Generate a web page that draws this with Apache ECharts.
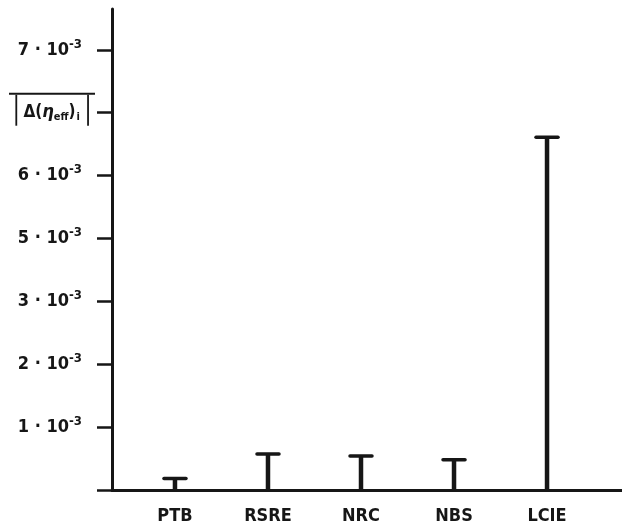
<!DOCTYPE html>
<html>
<head>
<meta charset="utf-8">
<script src="https://cdn.jsdelivr.net/npm/echarts@6/dist/echarts.min.js"></script>
<style>
html,body{margin:0;padding:0;background:#fff;}
#c{width:622px;height:528px;}
</style>
</head>
<body>
<div id="c"></div>
<script>
// Categories (labs) and values, in axis units of 10^-3
const categories = ['PTB', 'RSRE', 'NRC', 'NBS', 'LCIE'];
const values = [0.21, 0.60, 0.57, 0.51, 5.64];
// Y tick labels as printed in the figure (position -> text); position 6 carries the axis name
const yTickValues = [1, 2, 3, 4, 5, 6, 7];
const yTickMantissas = { 1: '1', 2: '2', 3: '3', 4: '5', 5: '6', 7: '7' };

const FONT = '"DejaVu Sans Condensed", "DejaVu Sans", sans-serif';
const INK = '#161616';

const chart = echarts.init(document.getElementById('c'), null, { renderer: 'canvas' });

const data = categories.map((c, i) => [i, values[i]]);

chart.setOption({
  animation: false,
  backgroundColor: '#fff',
  grid: { left: 112, right: 0, top: 9, bottom: 38, containLabel: false },
  xAxis: {
    type: 'value',
    min: -0.677,
    max: 4.806,
    splitLine: { show: false },
    axisLine: { show: true, onZero: false, lineStyle: { color: INK, width: 3 } },
    axisTick: { show: false },
    axisLabel: {
      customValues: categories.map((c, i) => i),
      formatter: v => categories[Math.round(v)] || '',
      margin: 17,
      color: INK,
      fontFamily: FONT,
      fontWeight: 'bold',
      fontSize: 18
    }
  },
  yAxis: {
    type: 'value',
    min: 0,
    max: 7.65,
    splitLine: { show: false },
    axisLine: { show: true, onZero: false, lineStyle: { color: INK, width: 3 } },
    axisTick: {
      show: true,
      customValues: [0].concat(yTickValues),
      length: 15,
      lineStyle: { color: INK, width: 2.5 }
    },
    axisLabel: {
      customValues: yTickValues,
      margin: 17,
      color: INK,
      formatter: v => {
        if (v === 6) {
          return '{ol|}\n{bar|│}{t|Δ(}{eta|η}{sub|eff}{t|)}{subi|i}{bar|│}\n{sp|}';
        }
        const m = yTickMantissas[v];
        return m ? '{n|' + m + ' · 10}{sup|-3}' : '';
      },
      rich: {
        n: { fontFamily: FONT, fontWeight: 'bold', fontSize: 18, color: INK, lineHeight: 22 },
        sup: { fontFamily: FONT, fontWeight: 'bold', fontSize: 13, color: INK, padding: [0, 13, 11, 0], lineHeight: 22 },
        ol: { width: 86, height: 2, backgroundColor: INK, lineHeight: 10 },
        bar: { fontFamily: FONT, fontSize: 26, color: INK, lineHeight: 28 },
        t: { fontFamily: FONT, fontWeight: 'bold', fontSize: 17, color: INK, lineHeight: 28 },
        eta: { fontFamily: FONT, fontWeight: 'bold', fontStyle: 'italic', fontSize: 18, color: INK, lineHeight: 28 },
        sub: { fontFamily: FONT, fontWeight: 'bold', fontSize: 11, color: INK, padding: [8, 0, 0, 0], lineHeight: 28 },
        subi: { fontFamily: FONT, fontWeight: 'bold', fontSize: 11, color: INK, padding: [8, 1, 0, 1], lineHeight: 28 },
        sp: { width: 1, height: 10, lineHeight: 10 }
      }
    }
  },
  series: [{
    type: 'custom',
    data: data,
    renderItem: function (params, api) {
      const x = api.value(0);
      const v = api.value(1);
      const top = api.coord([x, v]);
      const base = api.coord([x, 0]);
      return {
        type: 'group',
        children: [
          { type: 'line', shape: { x1: top[0], y1: top[1] + 1, x2: base[0], y2: base[1] }, style: { stroke: INK, lineWidth: 4.5 } },
          { type: 'line', shape: { x1: top[0] - 11, y1: top[1] + 1.75, x2: top[0] + 11, y2: top[1] + 1.75 }, style: { stroke: INK, lineWidth: 3.5, lineCap: 'round' } }
        ]
      };
    }
  }]
});
</script>
</body>
</html>
